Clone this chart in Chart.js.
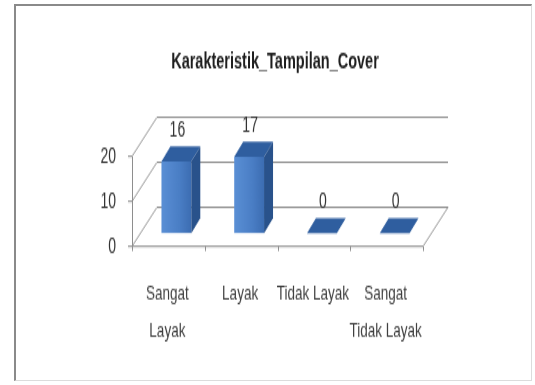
<!DOCTYPE html>
<html>
<head>
<meta charset="utf-8">
<script src="https://cdn.jsdelivr.net/npm/chart.js@4"></script>
<style>
  html, body { margin: 0; padding: 0; background: #fff; }
  body { width: 535px; height: 385px; position: relative; overflow: hidden; }
  .frame {
    position: absolute; left: 14px; top: 4px; width: 515px; height: 374px;
    border-left: 2px solid #8a8a8a; border-top: 2px solid #8a8a8a;
    border-right: 1px solid #dcdcdc; border-bottom: 1px solid #dcdcdc;
  }
  #chart { position: absolute; left: 0; top: 0; }
</style>
</head>
<body>
<div class="frame"></div>
<!-- the reference is a vertically stretched picture, so the canvas is too -->
<canvas id="chart" width="535" height="248" style="width:535px;height:385px"></canvas>
<script>
const chartTitle = 'Karakteristik_Tampilan_Cover';
const categories = [['Sangat', 'Layak'], 'Layak', 'Tidak Layak', ['Sangat', 'Tidak Layak']];
const values = [16, 17, 0, 0];
const yMin = 0;
const yMax = 20;
const yStep = 10;

const FONT = "'Liberation Sans', Arial, sans-serif";
const BAR_PCT = 0.41;

// front face: lighter on the left, darker on the right
function frontFace(c) {
    const xs = c.chart.scales.x;
    if (!xs || c.dataIndex === undefined) return '#4a7ec4';
    const cx = xs.getPixelForValue(c.dataIndex);
    const w = (xs.width / categories.length) * BAR_PCT;
    if (!Number.isFinite(cx) || !Number.isFinite(w) || w <= 0) return '#4a7ec4';
    const g = c.chart.ctx.createLinearGradient(cx - w / 2, 0, cx + w / 2, 0);
    g.addColorStop(0, '#5a8fd5');
    g.addColorStop(0.6, '#4a7ec5');
    g.addColorStop(1, '#3c6db2');
    return g;
}

// walls / floor of the fake 3D box, drawn off the library's scales
const walls = {
    id: 'walls',
    beforeDatasetsDraw(chart) {
        const { ctx, chartArea: a, scales: { y } } = chart;
        const fx = a.left - 8, fr = a.right - 8, fdy = 8.4;   // front edge
        const bx = a.left + 17, br = a.right + 17, bdy = -16.8; // back wall
        const y0 = y.getPixelForValue(0);
        ctx.save();
        ctx.strokeStyle = '#8e8e8e';
        ctx.lineWidth = 1;
        ctx.beginPath();
        y.ticks.forEach(t => {
            const py = y.getPixelForValue(t.value);
            ctx.moveTo(fx, py + fdy);
            ctx.lineTo(bx, py + bdy);
            ctx.lineTo(br, py + bdy);
            // small tick on the front axis
            ctx.moveTo(fx - 4, py + fdy);
            ctx.lineTo(fx, py + fdy);
        });
        // floor front + right edge
        ctx.moveTo(fx, y0 + fdy);
        ctx.lineTo(fr, y0 + fdy);
        ctx.lineTo(br, y0 + bdy);
        // front vertical axis
        ctx.moveTo(fx + 0.5, y0 + fdy);
        ctx.lineTo(fx + 0.5, y.getPixelForValue(y.max) + fdy);
        // category ticks on the floor edge
        const cw = (a.right - a.left) / categories.length;
        for (let i = 0; i <= categories.length; i++) {
            const tx = Math.round(fx + i * cw) + 0.5;
            ctx.moveTo(tx, y0 + fdy);
            ctx.lineTo(tx, y0 + fdy + 3);
        }
        ctx.stroke();
        ctx.restore();
    }
};

// top and side faces of each column + the value labels
const bars3d = {
    id: 'bars3d',
    afterDatasetsDraw(chart) {
        const { ctx } = chart;
        const dx = 9, dy = -9.7;
        const meta = chart.getDatasetMeta(0);
        ctx.save();
        meta.data.forEach((bar, i) => {
            const { x: cx, y: top, base, width: w } = bar.getProps(['x', 'y', 'base', 'width'], true);
            const l = cx - w / 2, r = cx + w / 2;
            ctx.fillStyle = '#2f5e9f';
            ctx.beginPath();
            ctx.moveTo(l, top);
            ctx.lineTo(l + dx, top + dy);
            ctx.lineTo(r + dx, top + dy);
            ctx.lineTo(r, top);
            ctx.closePath();
            ctx.fill();
            if (base - top > 0.5) {
                ctx.fillStyle = '#29528b';
                ctx.beginPath();
                ctx.moveTo(r, top);
                ctx.lineTo(r + dx, top + dy);
                ctx.lineTo(r + dx, base + dy);
                ctx.lineTo(r, base);
                ctx.closePath();
                ctx.fill();
            }
            ctx.fillStyle = '#333';
            ctx.font = '14px ' + FONT;
            ctx.textAlign = 'center';
            ctx.textBaseline = 'middle';
            ctx.fillText(String(values[i]), cx + 1, top + dy - 10.3);
        });
        ctx.restore();
    }
};

new Chart(document.getElementById('chart'), {
    type: 'bar',
    data: {
        labels: categories,
        datasets: [{
            data: values,
            backgroundColor: frontFace,
            borderWidth: 0,
            categoryPercentage: 1,
            barPercentage: BAR_PCT
        }]
    },
    options: {
        responsive: false,
        devicePixelRatio: 1,
        animation: false,
        events: [],
        layout: { padding: { left: 15, right: 0, top: 0, bottom: 0 } },
        scales: {
            x: {
                grid: { display: false, drawTicks: false },
                border: { display: false },
                ticks: {
                    color: '#404040',
                    font: { family: FONT, size: 13.5, lineHeight: 1.75 },
                    padding: 27.6,
                    labelOffset: -9,
                    maxRotation: 0,
                    minRotation: 0,
                    autoSkip: false
                },
                afterFit(s) { s.height = 97.7; }
            },
            y: {
                min: yMin,
                max: yMax,
                grid: { display: false, drawTicks: false },
                border: { display: false },
                ticks: {
                    stepSize: yStep,
                    color: '#333',
                    font: { family: FONT, size: 14 },
                    padding: 24,
                    labelOffset: 8.4
                },
                afterFit(s) { s.width = 125; }
            },
            y2: {
                position: 'right',
                grid: { display: false, drawTicks: false },
                border: { display: false },
                ticks: { display: false },
                afterFit(s) { s.width = 104; }
            }
        },
        plugins: {
            legend: { display: false },
            tooltip: { enabled: false },
            title: {
                display: true,
                text: chartTitle,
                color: '#1e1e1e',
                font: { family: FONT, size: 14.5, weight: 'bold' },
                padding: { top: 31.3, bottom: 43.6 }
            }
        }
    },
    plugins: [walls, bars3d]
});
</script>
</body>
</html>
